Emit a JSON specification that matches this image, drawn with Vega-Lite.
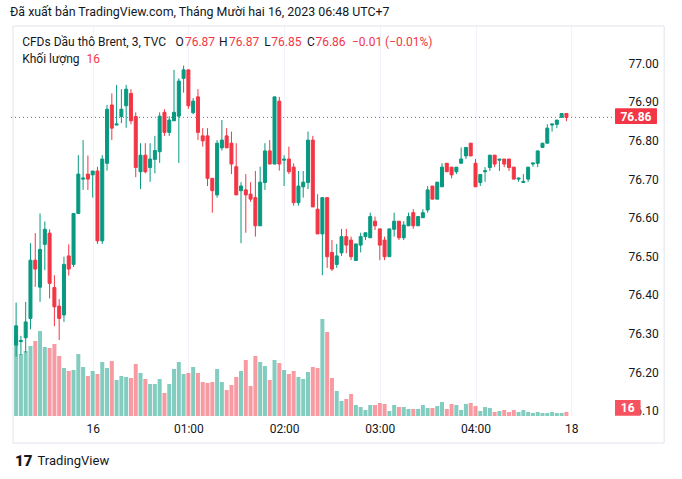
{
"$schema": "https://vega.github.io/schema/vega-lite/v6.json",
"width": 612, "height": 390,
"autosize": {"type": "none"},
"padding": {"left": 8, "top": 26, "right": 62, "bottom": 63},
"background": "white",
"title": {"text": "Đã xuất bản TradingView.com, Tháng Mười hai 16, 2023 06:48 UTC+7", "anchor": "start", "frame": "group", "offset": 7, "dx": 2, "fontSize": 12.4, "fontWeight": "normal", "font": "Roboto", "color": "#131722"},
"config": {"view": {"stroke": null}, "font": "Roboto", "axis": {"grid": true, "gridColor": "#f0f3fa", "ticks": false, "domain": false, "labelFont": "Roboto", "labelFontSize": 12, "labelColor": "#131722"}},
"datasets": {"c": [
{"t":"2023-12-15T23:12:00Z","o":76.27,"h":76.38,"l":76.24,"c":76.32,"v":317},
{"t":"2023-12-15T23:15:00Z","o":76.279,"h":76.294,"l":76.244,"c":76.282,"v":248},
{"t":"2023-12-15T23:18:00Z","o":76.289,"h":76.382,"l":76.25,"c":76.33,"v":260},
{"t":"2023-12-15T23:21:00Z","o":76.339,"h":76.534,"l":76.311,"c":76.49,"v":280},
{"t":"2023-12-15T23:24:00Z","o":76.49,"h":76.56,"l":76.421,"c":76.467,"v":300},
{"t":"2023-12-15T23:27:00Z","o":76.42,"h":76.611,"l":76.382,"c":76.518,"v":340},
{"t":"2023-12-15T23:30:00Z","o":76.531,"h":76.59,"l":76.464,"c":76.57,"v":276},
{"t":"2023-12-15T23:33:00Z","o":76.56,"h":76.57,"l":76.391,"c":76.43,"v":272},
{"t":"2023-12-15T23:36:00Z","o":76.419,"h":76.451,"l":76.319,"c":76.369,"v":288},
{"t":"2023-12-15T23:39:00Z","o":76.371,"h":76.389,"l":76.283,"c":76.339,"v":240},
{"t":"2023-12-15T23:42:00Z","o":76.348,"h":76.499,"l":76.33,"c":76.479,"v":192},
{"t":"2023-12-15T23:45:00Z","o":76.501,"h":76.531,"l":76.45,"c":76.467,"v":180},
{"t":"2023-12-15T23:48:00Z","o":76.479,"h":76.612,"l":76.472,"c":76.611,"v":184},
{"t":"2023-12-15T23:51:00Z","o":76.611,"h":76.762,"l":76.611,"c":76.713,"v":248},
{"t":"2023-12-15T23:54:00Z","o":76.7,"h":76.801,"l":76.672,"c":76.703,"v":196},
{"t":"2023-12-15T23:57:00Z","o":76.713,"h":76.761,"l":76.672,"c":76.7,"v":160},
{"t":"2023-12-16T00:00:00Z","o":76.711,"h":76.721,"l":76.652,"c":76.721,"v":180},
{"t":"2023-12-16T00:03:00Z","o":76.721,"h":76.732,"l":76.532,"c":76.54,"v":168},
{"t":"2023-12-16T00:06:00Z","o":76.54,"h":76.762,"l":76.532,"c":76.752,"v":216},
{"t":"2023-12-16T00:09:00Z","o":76.741,"h":76.892,"l":76.722,"c":76.881,"v":192},
{"t":"2023-12-16T00:12:00Z","o":76.892,"h":76.922,"l":76.801,"c":76.832,"v":220},
{"t":"2023-12-16T00:15:00Z","o":76.84,"h":76.944,"l":76.84,"c":76.843,"v":144},
{"t":"2023-12-16T00:18:00Z","o":76.862,"h":76.933,"l":76.845,"c":76.881,"v":160},
{"t":"2023-12-16T00:21:00Z","o":76.89,"h":76.944,"l":76.833,"c":76.933,"v":156},
{"t":"2023-12-16T00:24:00Z","o":76.922,"h":76.933,"l":76.842,"c":76.851,"v":152},
{"t":"2023-12-16T00:27:00Z","o":76.862,"h":76.873,"l":76.705,"c":76.73,"v":208},
{"t":"2023-12-16T00:30:00Z","o":76.719,"h":76.793,"l":76.674,"c":76.762,"v":172},
{"t":"2023-12-16T00:33:00Z","o":76.762,"h":76.793,"l":76.715,"c":76.719,"v":148},
{"t":"2023-12-16T00:36:00Z","o":76.73,"h":76.793,"l":76.693,"c":76.752,"v":128},
{"t":"2023-12-16T00:39:00Z","o":76.751,"h":76.812,"l":76.715,"c":76.774,"v":128},
{"t":"2023-12-16T00:42:00Z","o":76.771,"h":76.873,"l":76.742,"c":76.863,"v":148},
{"t":"2023-12-16T00:45:00Z","o":76.873,"h":76.881,"l":76.812,"c":76.821,"v":92},
{"t":"2023-12-16T00:48:00Z","o":76.821,"h":76.863,"l":76.812,"c":76.853,"v":128},
{"t":"2023-12-16T00:51:00Z","o":76.851,"h":76.983,"l":76.851,"c":76.873,"v":188},
{"t":"2023-12-16T00:54:00Z","o":76.863,"h":76.961,"l":76.742,"c":76.954,"v":216},
{"t":"2023-12-16T00:57:00Z","o":76.961,"h":76.994,"l":76.924,"c":76.983,"v":168},
{"t":"2023-12-16T01:00:00Z","o":76.983,"h":76.983,"l":76.882,"c":76.89,"v":172},
{"t":"2023-12-16T01:03:00Z","o":76.872,"h":76.91,"l":76.868,"c":76.902,"v":196},
{"t":"2023-12-16T01:06:00Z","o":76.913,"h":76.933,"l":76.801,"c":76.821,"v":172},
{"t":"2023-12-16T01:09:00Z","o":76.812,"h":76.832,"l":76.784,"c":76.799,"v":136},
{"t":"2023-12-16T01:12:00Z","o":76.812,"h":76.832,"l":76.682,"c":76.702,"v":132},
{"t":"2023-12-16T01:15:00Z","o":76.702,"h":76.702,"l":76.613,"c":76.67,"v":136},
{"t":"2023-12-16T01:18:00Z","o":76.659,"h":76.801,"l":76.652,"c":76.793,"v":188},
{"t":"2023-12-16T01:21:00Z","o":76.781,"h":76.853,"l":76.774,"c":76.801,"v":136},
{"t":"2023-12-16T01:24:00Z","o":76.812,"h":76.832,"l":76.781,"c":76.781,"v":104},
{"t":"2023-12-16T01:27:00Z","o":76.793,"h":76.823,"l":76.713,"c":76.739,"v":124},
{"t":"2023-12-16T01:30:00Z","o":76.732,"h":76.793,"l":76.659,"c":76.659,"v":156},
{"t":"2023-12-16T01:33:00Z","o":76.67,"h":76.692,"l":76.534,"c":76.682,"v":180},
{"t":"2023-12-16T01:36:00Z","o":76.672,"h":76.713,"l":76.561,"c":76.659,"v":224},
{"t":"2023-12-16T01:39:00Z","o":76.661,"h":76.692,"l":76.641,"c":76.648,"v":120},
{"t":"2023-12-16T01:42:00Z","o":76.652,"h":76.721,"l":76.551,"c":76.579,"v":240},
{"t":"2023-12-16T01:45:00Z","o":76.579,"h":76.732,"l":76.579,"c":76.692,"v":216},
{"t":"2023-12-16T01:48:00Z","o":76.691,"h":76.793,"l":76.672,"c":76.773,"v":200},
{"t":"2023-12-16T01:51:00Z","o":76.773,"h":76.801,"l":76.739,"c":76.739,"v":144},
{"t":"2023-12-16T01:54:00Z","o":76.739,"h":76.913,"l":76.739,"c":76.913,"v":224},
{"t":"2023-12-16T01:57:00Z","o":76.902,"h":76.913,"l":76.722,"c":76.739,"v":212},
{"t":"2023-12-16T02:00:00Z","o":76.749,"h":76.762,"l":76.682,"c":76.752,"v":184},
{"t":"2023-12-16T02:03:00Z","o":76.752,"h":76.784,"l":76.713,"c":76.719,"v":168},
{"t":"2023-12-16T02:06:00Z","o":76.731,"h":76.741,"l":76.631,"c":76.639,"v":180},
{"t":"2023-12-16T02:09:00Z","o":76.639,"h":76.721,"l":76.631,"c":76.682,"v":156},
{"t":"2023-12-16T02:12:00Z","o":76.68,"h":76.721,"l":76.652,"c":76.692,"v":148},
{"t":"2023-12-16T02:15:00Z","o":76.691,"h":76.823,"l":76.674,"c":76.801,"v":176},
{"t":"2023-12-16T02:18:00Z","o":76.801,"h":76.812,"l":76.628,"c":76.628,"v":196},
{"t":"2023-12-16T02:21:00Z","o":76.622,"h":76.661,"l":76.558,"c":76.558,"v":192},
{"t":"2023-12-16T02:24:00Z","o":76.558,"h":76.652,"l":76.451,"c":76.652,"v":388},
{"t":"2023-12-16T02:27:00Z","o":76.652,"h":76.652,"l":76.47,"c":76.499,"v":336},
{"t":"2023-12-16T02:30:00Z","o":76.51,"h":76.542,"l":76.462,"c":76.467,"v":152},
{"t":"2023-12-16T02:33:00Z","o":76.479,"h":76.532,"l":76.47,"c":76.501,"v":100},
{"t":"2023-12-16T02:36:00Z","o":76.509,"h":76.571,"l":76.501,"c":76.551,"v":60},
{"t":"2023-12-16T02:39:00Z","o":76.551,"h":76.571,"l":76.508,"c":76.529,"v":68},
{"t":"2023-12-16T02:42:00Z","o":76.542,"h":76.551,"l":76.49,"c":76.499,"v":88},
{"t":"2023-12-16T02:45:00Z","o":76.489,"h":76.532,"l":76.489,"c":76.532,"v":44},
{"t":"2023-12-16T02:48:00Z","o":76.529,"h":76.561,"l":76.51,"c":76.551,"v":36},
{"t":"2023-12-16T02:51:00Z","o":76.551,"h":76.561,"l":76.542,"c":76.561,"v":24},
{"t":"2023-12-16T02:54:00Z","o":76.548,"h":76.613,"l":76.548,"c":76.603,"v":44},
{"t":"2023-12-16T02:57:00Z","o":76.591,"h":76.603,"l":76.568,"c":76.579,"v":44},
{"t":"2023-12-16T03:00:00Z","o":76.571,"h":76.571,"l":76.49,"c":76.529,"v":52},
{"t":"2023-12-16T03:03:00Z","o":76.542,"h":76.551,"l":76.49,"c":76.499,"v":48},
{"t":"2023-12-16T03:06:00Z","o":76.499,"h":76.571,"l":76.499,"c":76.571,"v":20},
{"t":"2023-12-16T03:09:00Z","o":76.57,"h":76.613,"l":76.551,"c":76.591,"v":44},
{"t":"2023-12-16T03:12:00Z","o":76.591,"h":76.591,"l":76.542,"c":76.548,"v":36},
{"t":"2023-12-16T03:15:00Z","o":76.548,"h":76.591,"l":76.542,"c":76.581,"v":36},
{"t":"2023-12-16T03:18:00Z","o":76.579,"h":76.613,"l":76.579,"c":76.603,"v":28},
{"t":"2023-12-16T03:21:00Z","o":76.613,"h":76.622,"l":76.571,"c":76.579,"v":28},
{"t":"2023-12-16T03:24:00Z","o":76.579,"h":76.603,"l":76.579,"c":76.603,"v":28},
{"t":"2023-12-16T03:27:00Z","o":76.6,"h":76.622,"l":76.6,"c":76.613,"v":44},
{"t":"2023-12-16T03:30:00Z","o":76.62,"h":76.682,"l":76.613,"c":76.672,"v":32},
{"t":"2023-12-16T03:33:00Z","o":76.682,"h":76.682,"l":76.648,"c":76.648,"v":32},
{"t":"2023-12-16T03:36:00Z","o":76.648,"h":76.692,"l":76.648,"c":76.692,"v":40},
{"t":"2023-12-16T03:39:00Z","o":76.68,"h":76.741,"l":76.68,"c":76.731,"v":56},
{"t":"2023-12-16T03:42:00Z","o":76.741,"h":76.741,"l":76.719,"c":76.719,"v":28},
{"t":"2023-12-16T03:45:00Z","o":76.731,"h":76.731,"l":76.702,"c":76.711,"v":48},
{"t":"2023-12-16T03:48:00Z","o":76.719,"h":76.731,"l":76.713,"c":76.731,"v":44},
{"t":"2023-12-16T03:51:00Z","o":76.741,"h":76.782,"l":76.741,"c":76.752,"v":24},
{"t":"2023-12-16T03:54:00Z","o":76.76,"h":76.782,"l":76.752,"c":76.782,"v":48},
{"t":"2023-12-16T03:57:00Z","o":76.793,"h":76.793,"l":76.76,"c":76.76,"v":52},
{"t":"2023-12-16T04:00:00Z","o":76.741,"h":76.752,"l":76.68,"c":76.68,"v":40},
{"t":"2023-12-16T04:03:00Z","o":76.691,"h":76.712,"l":76.682,"c":76.712,"v":20},
{"t":"2023-12-16T04:06:00Z","o":76.719,"h":76.731,"l":76.693,"c":76.722,"v":36},
{"t":"2023-12-16T04:09:00Z","o":76.73,"h":76.762,"l":76.721,"c":76.762,"v":32},
{"t":"2023-12-16T04:12:00Z","o":76.762,"h":76.762,"l":76.731,"c":76.739,"v":16},
{"t":"2023-12-16T04:15:00Z","o":76.749,"h":76.752,"l":76.721,"c":76.752,"v":20},
{"t":"2023-12-16T04:18:00Z","o":76.752,"h":76.752,"l":76.731,"c":76.739,"v":24},
{"t":"2023-12-16T04:21:00Z","o":76.752,"h":76.752,"l":76.721,"c":76.73,"v":16},
{"t":"2023-12-16T04:24:00Z","o":76.731,"h":76.731,"l":76.7,"c":76.7,"v":24},
{"t":"2023-12-16T04:27:00Z","o":76.7,"h":76.703,"l":76.693,"c":76.703,"v":16},
{"t":"2023-12-16T04:30:00Z","o":76.691,"h":76.713,"l":76.691,"c":76.694,"v":24},
{"t":"2023-12-16T04:33:00Z","o":76.7,"h":76.731,"l":76.693,"c":76.731,"v":16},
{"t":"2023-12-16T04:36:00Z","o":76.739,"h":76.742,"l":76.732,"c":76.742,"v":12},
{"t":"2023-12-16T04:39:00Z","o":76.741,"h":76.773,"l":76.731,"c":76.773,"v":16},
{"t":"2023-12-16T04:42:00Z","o":76.782,"h":76.793,"l":76.782,"c":76.793,"v":12},
{"t":"2023-12-16T04:45:00Z","o":76.793,"h":76.842,"l":76.793,"c":76.832,"v":12},
{"t":"2023-12-16T04:48:00Z","o":76.84,"h":76.843,"l":76.823,"c":76.843,"v":16},
{"t":"2023-12-16T04:51:00Z","o":76.842,"h":76.853,"l":76.832,"c":76.853,"v":12},
{"t":"2023-12-16T04:54:00Z","o":76.86,"h":76.87,"l":76.86,"c":76.87,"v":12},
{"t":"2023-12-16T04:57:00Z","o":76.87,"h":76.87,"l":76.85,"c":76.86,"v":16}
]},
"layer": [
{
 "data": {"name": "c"},
 "layer": [
  {"mark": {"type": "bar", "size": 4, "opacity": 0.5},
   "encoding": {
    "x": {"field": "t", "type": "temporal", "title": null, "scale": {"type": "utc", "domain": [{"year":2023,"month":12,"date":15,"hours":23,"minutes":10,"seconds":3,"utc":true},{"year":2023,"month":12,"date":16,"hours":5,"minutes":27,"seconds":27,"utc":true}]}},
    "y": {"field": "v", "type": "quantitative", "title": null, "axis": null, "scale": {"domain": [0, 1560], "nice": false, "zero": true}},
    "color": {"condition": {"test": "datum.c >= datum.o", "value": "#089981"}, "value": "#f23645"}
   }},
  {"data": {"values": [{}]},
   "mark": {"type": "rect", "color": "#f7525f"},
   "encoding": {
    "x": {"datum": {"year":2023,"month":12,"date":16,"hours":5,"minutes":27,"seconds":27,"utc":true}, "type": "temporal", "title": null, "scale": {"type": "utc", "domain": [{"year":2023,"month":12,"date":15,"hours":23,"minutes":10,"seconds":3,"utc":true},{"year":2023,"month":12,"date":16,"hours":5,"minutes":27,"seconds":27,"utc":true}]}},
    "x2": {"datum": {"year":2023,"month":12,"date":16,"hours":5,"minutes":43,"seconds":28,"utc":true}},
    "y": {"datum": 64, "type": "quantitative", "title": null, "axis": null, "scale": {"domain": [0, 1560], "nice": false, "zero": true}},
    "y2": {"datum": 1}
   }},
  {"data": {"values": [{"v": 16}]},
   "mark": {"type": "text", "color": "white", "fontWeight": "bold", "fontSize": 12, "align": "center", "baseline": "middle"},
   "encoding": {
    "x": {"datum": {"year":2023,"month":12,"date":16,"hours":5,"minutes":35,"seconds":27,"utc":true}, "type": "temporal", "title": null, "scale": {"type": "utc", "domain": [{"year":2023,"month":12,"date":15,"hours":23,"minutes":10,"seconds":3,"utc":true},{"year":2023,"month":12,"date":16,"hours":5,"minutes":27,"seconds":27,"utc":true}]}},
    "y": {"datum": 32, "type": "quantitative", "title": null, "axis": null, "scale": {"domain": [0, 1560], "nice": false, "zero": true}},
    "text": {"field": "v", "type": "quantitative"}
   }}
 ]
},
{
 "data": {"name": "c"},
 "layer": [
  {"data": {"values": [{}]},
   "mark": {"type": "rect", "fill": "transparent", "stroke": "#e0e3eb", "strokeWidth": 1},
   "encoding": {
    "x": {"datum": {"year":2023,"month":12,"date":15,"hours":23,"minutes":10,"seconds":3,"utc":true}, "type": "temporal", "title": null, "scale": {"type": "utc", "domain": [{"year":2023,"month":12,"date":15,"hours":23,"minutes":10,"seconds":3,"utc":true},{"year":2023,"month":12,"date":16,"hours":5,"minutes":27,"seconds":27,"utc":true}]}},
    "x2": {"datum": {"year":2023,"month":12,"date":16,"hours":5,"minutes":58,"seconds":16,"utc":true}},
    "y": {"datum": 77.0966, "type": "quantitative", "title": null, "scale": {"domain": [76.0863, 77.0966], "nice": false, "zero": false}},
    "y2": {"datum": 76.0163}
   }},
  {"mark": {"type": "rule", "strokeWidth": 1},
   "encoding": {
    "x": {"field": "t", "type": "temporal", "title": null, "scale": {"type": "utc", "domain": [{"year":2023,"month":12,"date":15,"hours":23,"minutes":10,"seconds":3,"utc":true},{"year":2023,"month":12,"date":16,"hours":5,"minutes":27,"seconds":27,"utc":true}]},
     "axis": {"orient": "bottom", "labelPadding": 7, "labelFlush": false, "labelOverlap": false, "values": [{"year":2023,"month":12,"date":16,"hours":0,"utc":true},{"year":2023,"month":12,"date":16,"hours":1,"utc":true},{"year":2023,"month":12,"date":16,"hours":2,"utc":true},{"year":2023,"month":12,"date":16,"hours":3,"utc":true},{"year":2023,"month":12,"date":16,"hours":4,"utc":true},{"year":2023,"month":12,"date":16,"hours":5,"utc":true}],
      "labelExpr": "utchours(datum.value) == 0 ? '16' : (utchours(datum.value) == 5 ? '18' : utcFormat(datum.value, '%H:%M'))"}},
    "y": {"field": "l", "type": "quantitative", "title": null, "scale": {"domain": [76.0863, 77.0966], "nice": false, "zero": false},
     "axis": {"orient": "right", "labelPadding": 8, "format": ".2f", "values": [76.1, 76.2, 76.3, 76.4, 76.5, 76.6, 76.7, 76.8, 76.9, 77.0], "labelBaseline": "middle"}},
    "y2": {"field": "h"},
    "color": {"condition": {"test": "datum.c >= datum.o", "value": "#089981"}, "value": "#f23645"}
   }},
  {"mark": {"type": "bar", "size": 3, "strokeWidth": 1},
   "encoding": {
    "x": {"field": "t", "type": "temporal", "title": null, "scale": {"type": "utc", "domain": [{"year":2023,"month":12,"date":15,"hours":23,"minutes":10,"seconds":3,"utc":true},{"year":2023,"month":12,"date":16,"hours":5,"minutes":27,"seconds":27,"utc":true}]}},
    "y": {"field": "o", "type": "quantitative", "title": null, "scale": {"domain": [76.0863, 77.0966], "nice": false, "zero": false}},
    "y2": {"field": "c"},
    "color": {"condition": {"test": "datum.c >= datum.o", "value": "#089981"}, "value": "#f23645"},
    "stroke": {"condition": {"test": "datum.c >= datum.o", "value": "#089981"}, "value": "#f23645"}
   }},
  {"data": {"values": [{}]},
   "mark": {"type": "rule", "color": "#f23645", "strokeWidth": 1, "strokeDash": [1, 3]},
   "encoding": {
    "y": {"datum": 76.86, "type": "quantitative", "title": null, "scale": {"domain": [76.0863, 77.0966], "nice": false, "zero": false}}
   }},
  {"data": {"values": [{}]},
   "mark": {"type": "text", "text": "CFDs Dầu thô Brent, 3, TVC", "align": "left", "baseline": "middle", "fontSize": 12, "color": "#131722"},
   "encoding": {
    "x": {"datum": {"year":2023,"month":12,"date":15,"hours":23,"minutes":15,"seconds":47,"utc":true}, "type": "temporal", "title": null, "scale": {"type": "utc", "domain": [{"year":2023,"month":12,"date":15,"hours":23,"minutes":10,"seconds":3,"utc":true},{"year":2023,"month":12,"date":16,"hours":5,"minutes":27,"seconds":27,"utc":true}]}},
    "y": {"datum": 77.0544, "type": "quantitative", "title": null, "scale": {"domain": [76.0863, 77.0966], "nice": false, "zero": false}}
   }},
  {"data": {"values": [{}]},
   "mark": {"type": "text", "text": "O", "align": "left", "baseline": "middle", "fontSize": 12, "color": "#131722"},
   "encoding": {
    "x": {"datum": {"year":2023,"month":12,"date":16,"hours":0,"minutes":51,"seconds":59,"utc":true}, "type": "temporal", "title": null, "scale": {"type": "utc", "domain": [{"year":2023,"month":12,"date":15,"hours":23,"minutes":10,"seconds":3,"utc":true},{"year":2023,"month":12,"date":16,"hours":5,"minutes":27,"seconds":27,"utc":true}]}},
    "y": {"datum": 77.0544, "type": "quantitative", "title": null, "scale": {"domain": [76.0863, 77.0966], "nice": false, "zero": false}}
   }},
  {"data": {"values": [{}]},
   "mark": {"type": "text", "text": "76.87", "align": "left", "baseline": "middle", "fontSize": 12, "color": "#f23645"},
   "encoding": {
    "x": {"datum": {"year":2023,"month":12,"date":16,"hours":0,"minutes":57,"seconds":50,"utc":true}, "type": "temporal", "title": null, "scale": {"type": "utc", "domain": [{"year":2023,"month":12,"date":15,"hours":23,"minutes":10,"seconds":3,"utc":true},{"year":2023,"month":12,"date":16,"hours":5,"minutes":27,"seconds":27,"utc":true}]}},
    "y": {"datum": 77.0544, "type": "quantitative", "title": null, "scale": {"domain": [76.0863, 77.0966], "nice": false, "zero": false}}
   }},
  {"data": {"values": [{}]},
   "mark": {"type": "text", "text": "H", "align": "left", "baseline": "middle", "fontSize": 12, "color": "#131722"},
   "encoding": {
    "x": {"datum": {"year":2023,"month":12,"date":16,"hours":1,"minutes":19,"seconds":7,"utc":true}, "type": "temporal", "title": null, "scale": {"type": "utc", "domain": [{"year":2023,"month":12,"date":15,"hours":23,"minutes":10,"seconds":3,"utc":true},{"year":2023,"month":12,"date":16,"hours":5,"minutes":27,"seconds":27,"utc":true}]}},
    "y": {"datum": 77.0544, "type": "quantitative", "title": null, "scale": {"domain": [76.0863, 77.0966], "nice": false, "zero": false}}
   }},
  {"data": {"values": [{}]},
   "mark": {"type": "text", "text": "76.87", "align": "left", "baseline": "middle", "fontSize": 12, "color": "#f23645"},
   "encoding": {
    "x": {"datum": {"year":2023,"month":12,"date":16,"hours":1,"minutes":25,"seconds":30,"utc":true}, "type": "temporal", "title": null, "scale": {"type": "utc", "domain": [{"year":2023,"month":12,"date":15,"hours":23,"minutes":10,"seconds":3,"utc":true},{"year":2023,"month":12,"date":16,"hours":5,"minutes":27,"seconds":27,"utc":true}]}},
    "y": {"datum": 77.0544, "type": "quantitative", "title": null, "scale": {"domain": [76.0863, 77.0966], "nice": false, "zero": false}}
   }},
  {"data": {"values": [{}]},
   "mark": {"type": "text", "text": "L", "align": "left", "baseline": "middle", "fontSize": 12, "color": "#131722"},
   "encoding": {
    "x": {"datum": {"year":2023,"month":12,"date":16,"hours":1,"minutes":47,"seconds":29,"utc":true}, "type": "temporal", "title": null, "scale": {"type": "utc", "domain": [{"year":2023,"month":12,"date":15,"hours":23,"minutes":10,"seconds":3,"utc":true},{"year":2023,"month":12,"date":16,"hours":5,"minutes":27,"seconds":27,"utc":true}]}},
    "y": {"datum": 77.0544, "type": "quantitative", "title": null, "scale": {"domain": [76.0863, 77.0966], "nice": false, "zero": false}}
   }},
  {"data": {"values": [{}]},
   "mark": {"type": "text", "text": "76.85", "align": "left", "baseline": "middle", "fontSize": 12, "color": "#f23645"},
   "encoding": {
    "x": {"datum": {"year":2023,"month":12,"date":16,"hours":1,"minutes":52,"seconds":0,"utc":true}, "type": "temporal", "title": null, "scale": {"type": "utc", "domain": [{"year":2023,"month":12,"date":15,"hours":23,"minutes":10,"seconds":3,"utc":true},{"year":2023,"month":12,"date":16,"hours":5,"minutes":27,"seconds":27,"utc":true}]}},
    "y": {"datum": 77.0544, "type": "quantitative", "title": null, "scale": {"domain": [76.0863, 77.0966], "nice": false, "zero": false}}
   }},
  {"data": {"values": [{}]},
   "mark": {"type": "text", "text": "C", "align": "left", "baseline": "middle", "fontSize": 12, "color": "#131722"},
   "encoding": {
    "x": {"datum": {"year":2023,"month":12,"date":16,"hours":2,"minutes":14,"seconds":20,"utc":true}, "type": "temporal", "title": null, "scale": {"type": "utc", "domain": [{"year":2023,"month":12,"date":15,"hours":23,"minutes":10,"seconds":3,"utc":true},{"year":2023,"month":12,"date":16,"hours":5,"minutes":27,"seconds":27,"utc":true}]}},
    "y": {"datum": 77.0544, "type": "quantitative", "title": null, "scale": {"domain": [76.0863, 77.0966], "nice": false, "zero": false}}
   }},
  {"data": {"values": [{}]},
   "mark": {"type": "text", "text": "76.86", "align": "left", "baseline": "middle", "fontSize": 12, "color": "#f23645"},
   "encoding": {
    "x": {"datum": {"year":2023,"month":12,"date":16,"hours":2,"minutes":19,"seconds":40,"utc":true}, "type": "temporal", "title": null, "scale": {"type": "utc", "domain": [{"year":2023,"month":12,"date":15,"hours":23,"minutes":10,"seconds":3,"utc":true},{"year":2023,"month":12,"date":16,"hours":5,"minutes":27,"seconds":27,"utc":true}]}},
    "y": {"datum": 77.0544, "type": "quantitative", "title": null, "scale": {"domain": [76.0863, 77.0966], "nice": false, "zero": false}}
   }},
  {"data": {"values": [{}]},
   "mark": {"type": "text", "text": "−0.01 (−0.01%)", "align": "left", "baseline": "middle", "fontSize": 12, "color": "#f23645"},
   "encoding": {
    "x": {"datum": {"year":2023,"month":12,"date":16,"hours":2,"minutes":42,"seconds":30,"utc":true}, "type": "temporal", "title": null, "scale": {"type": "utc", "domain": [{"year":2023,"month":12,"date":15,"hours":23,"minutes":10,"seconds":3,"utc":true},{"year":2023,"month":12,"date":16,"hours":5,"minutes":27,"seconds":27,"utc":true}]}},
    "y": {"datum": 77.0544, "type": "quantitative", "title": null, "scale": {"domain": [76.0863, 77.0966], "nice": false, "zero": false}}
   }},
  {"data": {"values": [{}]},
   "mark": {"type": "text", "text": "Khối lượng", "align": "left", "baseline": "middle", "fontSize": 12, "color": "#131722"},
   "encoding": {
    "x": {"datum": {"year":2023,"month":12,"date":15,"hours":23,"minutes":15,"seconds":47,"utc":true}, "type": "temporal", "title": null, "scale": {"type": "utc", "domain": [{"year":2023,"month":12,"date":15,"hours":23,"minutes":10,"seconds":3,"utc":true},{"year":2023,"month":12,"date":16,"hours":5,"minutes":27,"seconds":27,"utc":true}]}},
    "y": {"datum": 77.0104, "type": "quantitative", "title": null, "scale": {"domain": [76.0863, 77.0966], "nice": false, "zero": false}}
   }},
  {"data": {"values": [{}]},
   "mark": {"type": "text", "text": "16", "align": "left", "baseline": "middle", "fontSize": 12, "color": "#f23645"},
   "encoding": {
    "x": {"datum": {"year":2023,"month":12,"date":15,"hours":23,"minutes":56,"seconds":7,"utc":true}, "type": "temporal", "title": null, "scale": {"type": "utc", "domain": [{"year":2023,"month":12,"date":15,"hours":23,"minutes":10,"seconds":3,"utc":true},{"year":2023,"month":12,"date":16,"hours":5,"minutes":27,"seconds":27,"utc":true}]}},
    "y": {"datum": 77.0104, "type": "quantitative", "title": null, "scale": {"domain": [76.0863, 77.0966], "nice": false, "zero": false}}
   }},
  {"data": {"values": [{}]},
   "mark": {"type": "rect", "color": "#f23645", "cornerRadius": 1},
   "encoding": {
    "x": {"datum": {"year":2023,"month":12,"date":16,"hours":5,"minutes":27,"seconds":27,"utc":true}, "type": "temporal", "title": null, "scale": {"type": "utc", "domain": [{"year":2023,"month":12,"date":15,"hours":23,"minutes":10,"seconds":3,"utc":true},{"year":2023,"month":12,"date":16,"hours":5,"minutes":27,"seconds":27,"utc":true}]}},
    "x2": {"datum": {"year":2023,"month":12,"date":16,"hours":5,"minutes":53,"seconds":46,"utc":true}},
    "y": {"datum": 76.8834, "type": "quantitative", "title": null, "scale": {"domain": [76.0863, 77.0966], "nice": false, "zero": false}},
    "y2": {"datum": 76.8427}
   }},
  {"data": {"values": [{"p": 76.86}]},
   "mark": {"type": "text", "color": "white", "fontWeight": "bold", "fontSize": 12, "align": "center", "baseline": "middle"},
   "encoding": {
    "x": {"datum": {"year":2023,"month":12,"date":16,"hours":5,"minutes":40,"seconds":35,"utc":true}, "type": "temporal", "title": null, "scale": {"type": "utc", "domain": [{"year":2023,"month":12,"date":15,"hours":23,"minutes":10,"seconds":3,"utc":true},{"year":2023,"month":12,"date":16,"hours":5,"minutes":27,"seconds":27,"utc":true}]}},
    "y": {"field": "p", "type": "quantitative", "title": null, "scale": {"domain": [76.0863, 77.0966], "nice": false, "zero": false}},
    "text": {"field": "p", "type": "quantitative", "format": ".2f"}
   }},
  {"data": {"values": [{}]},
   "mark": {"type": "text", "text": "17", "align": "left", "baseline": "middle", "fontSize": 15, "fontWeight": 900, "color": "#131722"},
   "encoding": {
    "x": {"datum": {"year":2023,"month":12,"date":15,"hours":23,"minutes":11,"seconds":17,"utc":true}, "type": "temporal", "title": null, "scale": {"type": "utc", "domain": [{"year":2023,"month":12,"date":15,"hours":23,"minutes":10,"seconds":3,"utc":true},{"year":2023,"month":12,"date":16,"hours":5,"minutes":27,"seconds":27,"utc":true}]}},
    "y": {"datum": 75.9697, "type": "quantitative", "title": null, "scale": {"domain": [76.0863, 77.0966], "nice": false, "zero": false}}
   }},
  {"data": {"values": [{}]},
   "mark": {"type": "text", "text": "TradingView", "align": "left", "baseline": "middle", "fontSize": 13, "color": "#131722"},
   "encoding": {
    "x": {"datum": {"year":2023,"month":12,"date":15,"hours":23,"minutes":25,"seconds":28,"utc":true}, "type": "temporal", "title": null, "scale": {"type": "utc", "domain": [{"year":2023,"month":12,"date":15,"hours":23,"minutes":10,"seconds":3,"utc":true},{"year":2023,"month":12,"date":16,"hours":5,"minutes":27,"seconds":27,"utc":true}]}},
    "y": {"datum": 75.9697, "type": "quantitative", "title": null, "scale": {"domain": [76.0863, 77.0966], "nice": false, "zero": false}}
   }}
 ]
}
],
"resolve": {"scale": {"y": "independent"}}
}
